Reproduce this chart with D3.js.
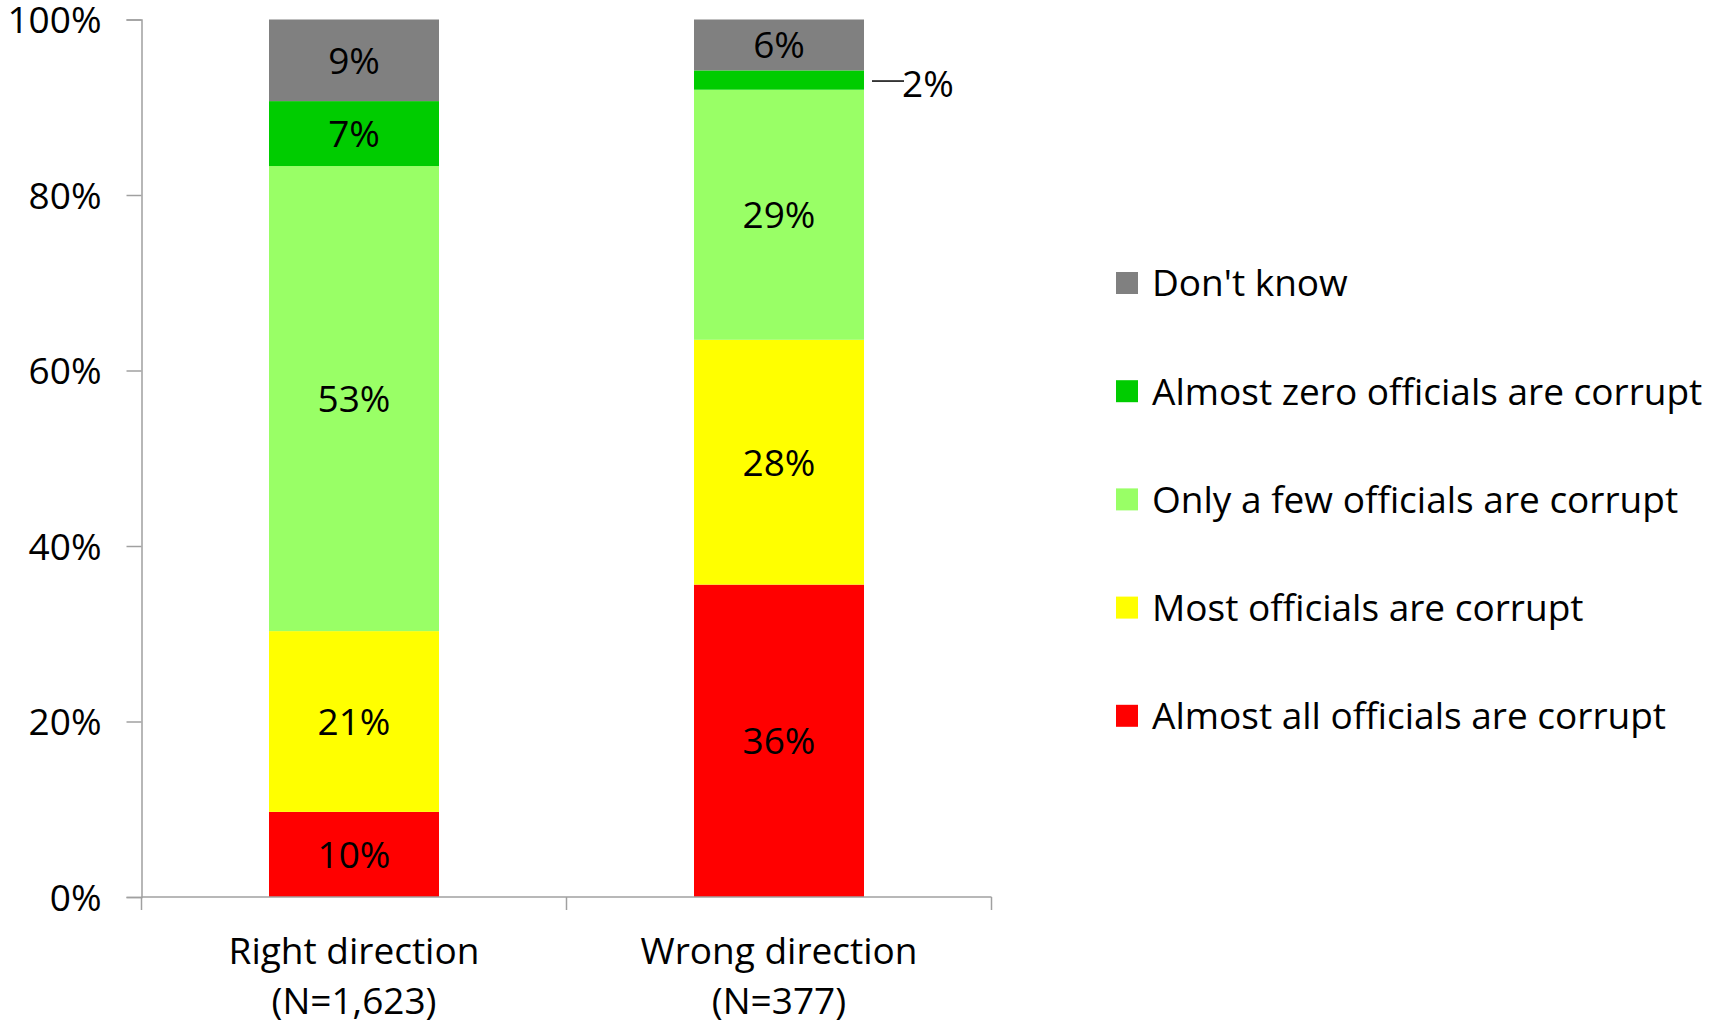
<!DOCTYPE html>
<html><head><meta charset="utf-8">
<script src="https://cdn.jsdelivr.net/npm/d3@7/dist/d3.min.js"></script>
<style>
html,body{margin:0;padding:0;background:#fff;}
svg{display:block;font-family:"Open Sans", Lato, sans-serif;}
</style></head>
<body>
<svg id="chart" width="1713" height="1023"></svg>
<script>
const categories = ["Right direction", "Wrong direction"];
const categorySubLabels = ["(N=1,623)", "(N=377)"];
const seriesNames = ["Almost all officials are corrupt", "Most officials are corrupt", "Only a few officials are corrupt", "Almost zero officials are corrupt", "Don't know"];
const seriesColors = ["#ff0000", "#ffff00", "#99ff66", "#00cc00", "#808080"];
const almostAll = [9.7, 35.6];
const most = [20.6, 27.9];
const onlyFew = [53.0, 28.5];
const almostZero = [7.4, 2.2];
const dontKnow = [9.3, 5.8];
const labelsAlmostAll = ["10%", "36%"];
const labelsMost = ["21%", "28%"];
const labelsOnlyFew = ["53%", "29%"];
const labelsAlmostZero = ["7%", "2%"];
const labelsDontKnow = ["9%", "6%"];
const yTicks = [0, 20, 40, 60, 80, 100];

const series = [almostAll, most, onlyFew, almostZero, dontKnow];
const labels = [labelsAlmostAll, labelsMost, labelsOnlyFew, labelsAlmostZero, labelsDontKnow];

const svg = d3.select("#chart");
const FS = 37;
const FONT = "'Open Sans', Lato, sans-serif";
const x0 = 141.5, x1 = 991.5, yTop = 19.5, yBot = 897;

const x = d3.scaleBand().domain(categories).range([x0, x1]).paddingInner(0.6).paddingOuter(0.3);
const xc = d3.scalePoint().domain([0,1,2]).range([x0, x1]);
const y = d3.scaleLinear().domain([0, 100]).range([yBot, yTop]);

const rows = categories.map((c, i) => {
  const o = {cat: c};
  seriesNames.forEach((s, j) => o[s] = series[j][i]);
  return o;
});
const stacked = d3.stack().keys(seriesNames)(rows);

stacked.forEach((layer, j) => {
  svg.append("g").selectAll("rect").data(layer).join("rect")
    .attr("x", d => x(d.data.cat))
    .attr("y", d => y(d[1]))
    .attr("width", x.bandwidth())
    .attr("height", d => y(d[0]) - y(d[1]))
    .attr("fill", seriesColors[j]);
});

const yAxis = d3.axisLeft(y).tickValues(yTicks).tickFormat(d => d + "%").tickSizeOuter(0).tickSize(15).tickPadding(25);
const gy = svg.append("g").attr("transform", `translate(${x0},0)`).call(yAxis);
gy.select(".domain").attr("stroke", "#a0a0a0").attr("stroke-width", 1.5);
gy.selectAll(".tick line").attr("stroke", "#a0a0a0").attr("stroke-width", 1.5);
gy.selectAll(".tick text").attr("font-size", FS).attr("fill", "#000").attr("font-family", FONT).attr("dy", "0.36em");

svg.append("line").attr("x1", x0).attr("x2", x1).attr("y1", yBot).attr("y2", yBot)
  .attr("stroke", "#a0a0a0").attr("stroke-width", 1.5);
svg.append("g").selectAll("line").data([0,1,2]).join("line")
  .attr("x1", d => xc(d)).attr("x2", d => xc(d))
  .attr("y1", yBot).attr("y2", yBot + 13)
  .attr("stroke", "#a0a0a0").attr("stroke-width", 1.5);

const xl = svg.append("g");
categories.forEach((c, i) => {
  const cx = x(c) + x.bandwidth() / 2;
  xl.append("text").attr("x", cx).attr("y", 964).attr("text-anchor", "middle")
    .attr("font-size", FS).text(c);
  xl.append("text").attr("x", cx).attr("y", 1014).attr("text-anchor", "middle")
    .attr("font-size", FS).text(categorySubLabels[i]);
});

stacked.forEach((layer, j) => {
  layer.forEach((d, i) => {
    const cx = x(d.data.cat) + x.bandwidth() / 2;
    const cy = (y(d[0]) + y(d[1])) / 2;
    const h = y(d[0]) - y(d[1]);
    if (h < 30) {
      const lx = x(d.data.cat) + x.bandwidth();
      svg.append("line").attr("x1", lx + 8).attr("x2", lx + 40).attr("y1", cy + 1).attr("y2", cy + 1)
        .attr("stroke", "#000").attr("stroke-width", 1.5);
      svg.append("text").attr("x", lx + 38).attr("y", cy + 4).attr("dy", "0.36em")
        .attr("font-size", FS).text(labels[j][i]);
    } else {
      svg.append("text").attr("x", cx).attr("y", cy).attr("dy", "0.36em")
        .attr("text-anchor", "middle").attr("font-size", FS).text(labels[j][i]);
    }
  });
});

const legendOrder = [4, 3, 2, 1, 0];
const lg = svg.append("g");
legendOrder.forEach((j, k) => {
  const cy = 283 + k * 108.2;
  lg.append("rect").attr("x", 1116).attr("y", cy - 11).attr("width", 22).attr("height", 22).attr("fill", seriesColors[j]);
  lg.append("text").attr("x", 1152).attr("y", cy).attr("dy", "0.36em").attr("font-size", FS).text(seriesNames[j]);
});
</script>
</body></html>
